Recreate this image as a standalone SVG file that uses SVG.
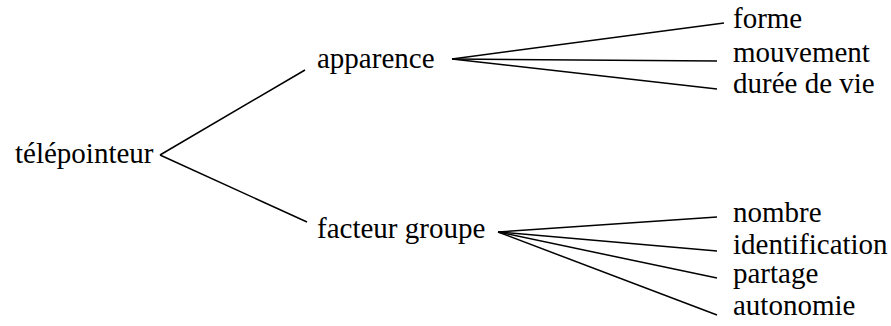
<svg xmlns="http://www.w3.org/2000/svg" width="891" height="326" viewBox="0 0 891 326">
<style>
.t { font-family: 'Liberation Serif', 'Times New Roman', serif; font-size: 29px; fill: #000; }
.c line { stroke: #000; stroke-width: 1.5; fill: none; }
</style>
<rect width="891" height="326" fill="#fff"/>
<g class="c" id="connectors">
<line x1="160" y1="155" x2="305" y2="70"/>
<line x1="160" y1="155" x2="307" y2="222"/>
<line x1="452" y1="59" x2="724" y2="23"/>
<line x1="452" y1="59" x2="717" y2="61"/>
<line x1="452" y1="59" x2="717" y2="89"/>
<line x1="498" y1="232" x2="717" y2="217"/>
<line x1="498" y1="232" x2="717" y2="251"/>
<line x1="498" y1="232" x2="717" y2="278"/>
<line x1="498" y1="232" x2="717" y2="315"/>
</g>
<g id="n-telepointeur"><text class="t" x="15" y="163">télépointeur</text></g>
<g id="n-apparence"><text class="t" x="317" y="68">apparence</text></g>
<g id="n-facteur"><text class="t" x="317" y="238">facteur groupe</text></g>
<g id="n-forme"><text class="t" x="733" y="28">forme</text></g>
<g id="n-mouvement"><text class="t" x="733" y="62">mouvement</text></g>
<g id="n-duree"><text class="t" x="733" y="93">durée de vie</text></g>
<g id="n-nombre"><text class="t" x="733" y="222">nombre</text></g>
<g id="n-identification"><text class="t" x="733" y="254">identification</text></g>
<g id="n-partage"><text class="t" x="733" y="283">partage</text></g>
<g id="n-autonomie"><text class="t" x="733" y="315">autonomie</text></g>
</svg>
